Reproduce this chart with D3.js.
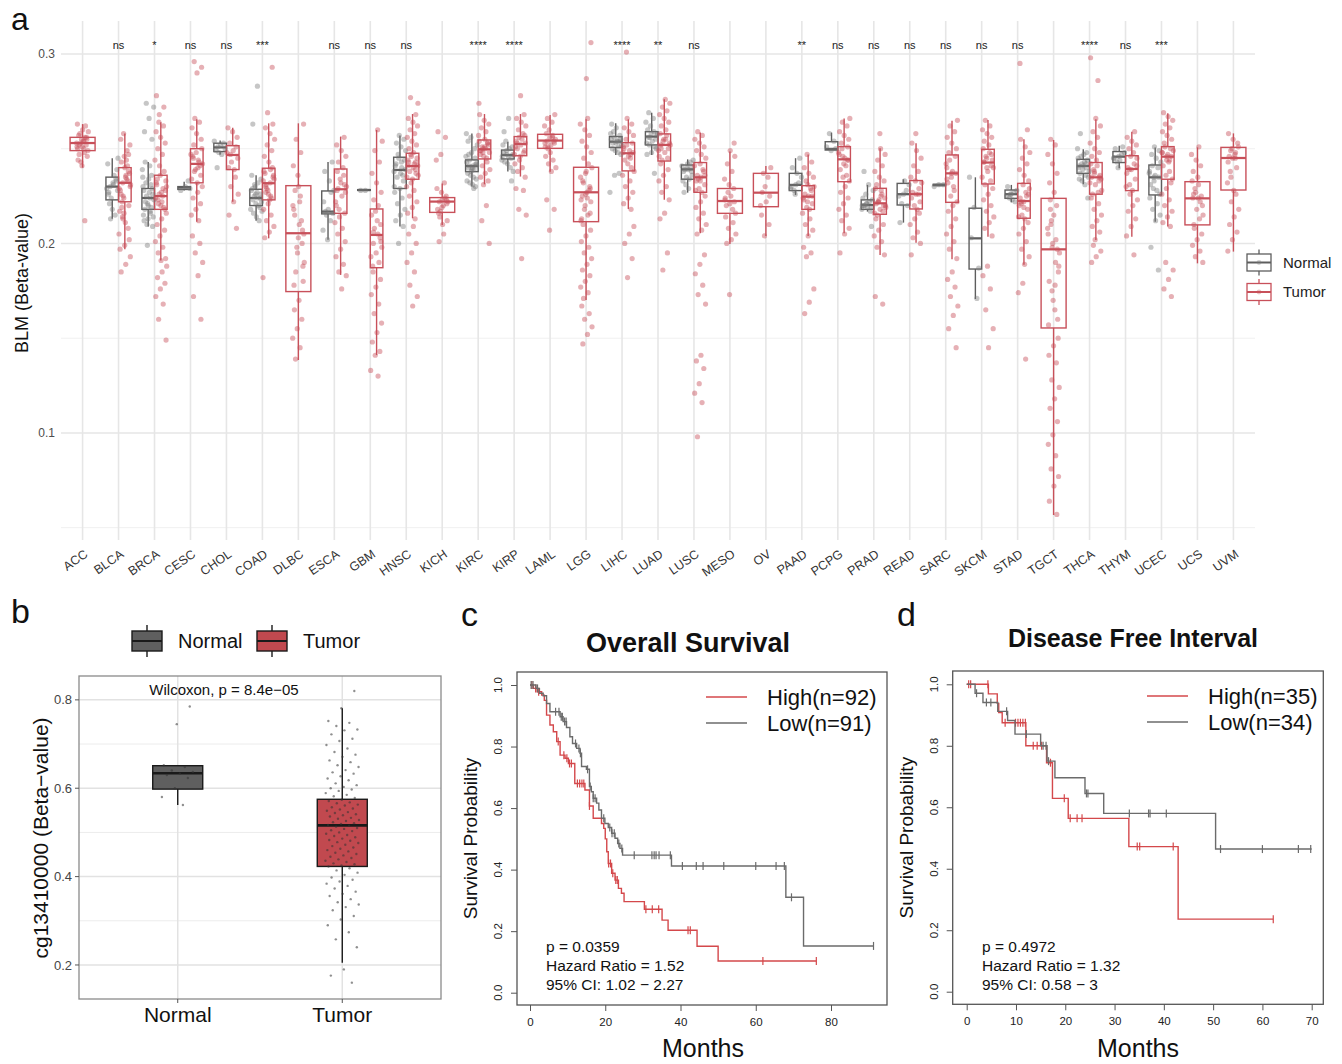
<!DOCTYPE html>
<html lang="en">
<head>
<meta charset="utf-8">
<title>BLM methylation</title>
<script src="https://cdn.jsdelivr.net/npm/d3@7"></script>
<style>
  body { margin: 0; background: #fff; }
  svg text { font-family: "Liberation Sans", Arial, sans-serif; }
</style>
</head>
<body>
<svg id="fig" width="1342" height="1064"></svg>
<script>
// ---------- panel a : BLM beta values across TCGA ----------
const cancers = ["ACC","BLCA","BRCA","CESC","CHOL","COAD","DLBC","ESCA","GBM","HNSC","KICH","KIRC","KIRP","LAML","LGG","LIHC","LUAD","LUSC","MESO","OV","PAAD","PCPG","PRAD","READ","SARC","SKCM","STAD","TGCT","THCA","THYM","UCEC","UCS","UVM"];
const sigLabels = ["","ns","*","ns","ns","***","","ns","ns","ns","","****","****","","","****","**","ns","","","**","ns","ns","ns","ns","ns","ns","","****","ns","***","",""];

// [lower whisker, q1, median, q3, upper whisker]
const normalBox = [
  null,
  [0.213,0.223,0.230,0.235,0.245],
  [0.209,0.218,0.224,0.229,0.243],
  [0.228,0.2285,0.2295,0.230,0.2325],
  [0.247,0.2485,0.2507,0.2529,0.2543],
  [0.212,0.220,0.224,0.2286,0.236],
  null,
  [0.202,0.2156,0.2168,0.2277,0.243],
  [0.2279,0.228,0.2282,0.2284,0.2285],
  [0.209,0.229,0.2388,0.2455,0.257],
  null,
  [0.230,0.2379,0.2409,0.2441,0.258],
  [0.238,0.2446,0.2467,0.2493,0.2537],
  null,
  null,
  [0.2467,0.2507,0.2537,0.2564,0.2634],
  [0.2467,0.252,0.2564,0.259,0.269],
  [0.2268,0.2339,0.2391,0.2414,0.2444],
  null,
  null,
  [0.2256,0.2279,0.2309,0.237,0.245],
  [0.2493,0.2493,0.2499,0.2537,0.2585],
  [0.2168,0.218,0.2203,0.223,0.2309],
  [0.211,0.2203,0.226,0.2317,0.2339],
  [0.2303,0.2305,0.2309,0.2312,0.2314],
  [0.1707,0.1865,0.2027,0.2186,0.2349],
  [0.2217,0.2238,0.226,0.2282,0.2309],
  null,
  [0.2312,0.237,0.2409,0.2444,0.2497],
  [0.2397,0.2427,0.2458,0.2485,0.2515],
  [0.2115,0.2256,0.2349,0.2414,0.2507],
  null,
  null
];
const tumorBox = [
  [0.240,0.249,0.253,0.256,0.263],
  [0.197,0.222,0.232,0.240,0.258],
  [0.191,0.218,0.225,0.236,0.264],
  [0.2115,0.232,0.242,0.250,0.2655],
  [0.222,0.239,0.2467,0.2516,0.261],
  [0.2027,0.223,0.2318,0.2397,0.2634],
  [0.1385,0.1746,0.2054,0.2305,0.2634],
  [0.1834,0.2159,0.2286,0.2393,0.2564],
  [0.1411,0.1872,0.2045,0.2182,0.2599],
  [0.2133,0.2339,0.2409,0.2476,0.2683],
  [0.2098,0.2164,0.2221,0.2242,0.2317],
  [0.2312,0.2446,0.2497,0.2546,0.2683],
  [0.2353,0.2463,0.2525,0.2564,0.2683],
  [0.2379,0.2502,0.2543,0.2576,0.2678],
  [0.1702,0.2115,0.227,0.2402,0.2655],
  [0.2182,0.2383,0.2476,0.2532,0.2655],
  [0.223,0.2435,0.252,0.2578,0.2761],
  [0.2054,0.227,0.2349,0.2427,0.2585],
  [0.1997,0.2159,0.2224,0.229,0.2485],
  [0.204,0.2194,0.2268,0.237,0.2409],
  [0.204,0.218,0.2247,0.2305,0.247],
  [0.2054,0.2326,0.2444,0.2511,0.266],
  [0.1939,0.2154,0.2212,0.2291,0.2502],
  [0.2004,0.2182,0.226,0.2332,0.2529],
  [0.1917,0.2217,0.237,0.2467,0.2648],
  [0.2036,0.2314,0.2427,0.2497,0.2652],
  [0.1887,0.2133,0.2224,0.2317,0.255],
  [0.0567,0.1554,0.1969,0.2238,0.2546],
  [0.2018,0.226,0.2349,0.2427,0.2655],
  [0.2036,0.2279,0.2393,0.2463,0.259],
  [0.2089,0.2339,0.2458,0.2511,0.2687],
  [0.1895,0.2098,0.2238,0.2326,0.2507],
  [0.1957,0.2282,0.2451,0.2507,0.2581]
];

// individual samples, beta x 1000
const normalPts = [
  "",
  "230 228 232 226 234 224 229 236 221 239 218 242 215 213 245 231 227 233",
  "224 222 226 220 228 219 225 223 227 218 229 221 230 216 232 214 234 212 236 210 239 241 243 209 213 215 231 274 272 266 259 255 199 235 217",
  "229 230 228 233",
  "251 250 252 249 253 248 254 247 240",
  "224 223 226 221 228 220 225 222 227 229 219 230 218 232 216 234 214 236 212 231 217 283 263 224 226",
  "",
  "217 216 218 222 227 215 228 233 238 243 202 207 212",
  "228 228",
  "239 237 242 233 245 230 240 235 244 229 241 236 247 249 251 253 255 257 227 224 221 218 215 212 209 200 238 243",
  "",
  "241 240 242 238 243 239 244 241 240 237 245 236 246 235 247 234 248 233 250 232 252 231 254 230 256 258 229 241 242 239",
  "247 246 248 245 249 244 250 243 251 242 252 240 254 238 266 259 233 247 246",
  "",
  "",
  "254 253 255 251 256 252 254 250 257 249 258 248 259 247 261 263 237 236 227 254 253 255",
  "256 255 258 253 259 252 257 254 260 251 262 264 266 269 250 248 247 237 256 258",
  "239 238 240 235 241 234 239 236 242 233 243 231 244 229 227 238 240",
  "",
  "",
  "231 230 232 228 235 237 240 245 226 229",
  "250 249 251 254 258",
  "220 219 221 218 222 220 223 219 224 217 226 228 231 238 209 221 220",
  "226 225 228 221 231 233 211 220",
  "231 231 230",
  "203 187 219 235 171",
  "226 225 227 224 228 223 230 222 226",
  "",
  "241 240 242 238 243 237 244 239 245 236 246 235 247 234 248 233 250 231 258 224 241 240 242",
  "246 245 247 243 248 244 250 251 240 245",
  "235 233 238 228 241 226 236 231 240 229 243 245 247 249 251 224 221 218 215 212 198 186 235 237",
  "",
  ""
];
const tumorPts = [
  "253 254 252 255 251 250 256 253 249 254 257 252 255 251 248 258 246 260 244 262 243 259 250 247 256 241 263 212",
  "232 230 235 226 238 224 229 234 222 237 240 228 233 225 231 236 243 220 246 217 249 214 252 211 255 208 258 205 244 219 202 199 197 241 213 193 189 185 247 216",
  "225 223 228 220 232 219 226 230 222 234 218 236 224 229 221 233 227 231 238 241 244 247 250 253 256 259 262 264 216 213 210 207 204 201 198 195 192 191 278 272 268 188 185 182 179 176 172 168 160 149",
  "242 240 245 236 248 234 243 238 250 232 246 241 239 247 244 252 255 258 261 264 266 230 227 224 221 218 215 212 296 293 290 204 200 195 190 183 172 160",
  "247 245 249 240 251 243 248 239 253 256 259 261 235 230 226 222 215 208",
  "232 230 235 226 238 224 229 234 223 237 240 228 233 225 231 236 243 246 249 252 255 258 261 263 221 218 215 212 209 206 203 293 269 182 239 227",
  "205 210 215 200 195 220 225 185 180 230 178 212 198 190 222 228 207 236 241 248 255 263 170 165 160 155 150 145 139 188 203 218",
  "229 227 232 220 236 218 230 225 238 216 234 222 240 243 246 249 252 256 214 211 208 205 201 197 193 189 185 183 176 228 231",
  "205 200 210 195 215 190 208 198 212 188 203 217 193 220 223 227 232 237 243 249 254 260 185 181 177 173 168 163 158 153 148 143 141 133 130 206 201",
  "241 240 243 237 246 235 242 238 245 234 244 239 247 236 248 250 252 254 256 258 260 262 264 266 268 232 230 228 225 222 219 216 213 277 274 209 205 200 195 190 185 178 172 167 241 243",
  "222 221 223 218 224 217 222 220 216 225 227 229 232 214 212 210 259 256 247 244 205 201 223 219",
  "250 249 252 246 254 245 251 248 255 247 253 250 257 259 261 263 265 268 243 241 239 237 235 233 231 274 220 212 200 251 249 253 248",
  "253 252 254 248 256 247 255 250 257 246 251 258 260 262 264 266 268 244 242 240 238 235 278 229 228 218 215 192 253 249",
  "254 253 256 251 257 250 255 252 258 254 260 262 264 266 268 248 246 244 242 240 238 223 218 207 253 256 251",
  "227 225 230 220 235 215 232 222 238 213 228 218 240 224 233 216 237 212 242 245 248 251 254 257 260 263 266 210 207 204 201 198 195 192 189 186 183 180 177 174 171 306 287 167 163 160 156 152 147 229 226 223",
  "248 246 250 240 252 238 249 244 253 242 251 247 255 257 259 261 263 266 236 233 230 227 224 221 218 301 209 205 200 192 182 248 245",
  "252 250 255 246 257 244 253 248 258 245 254 249 260 262 264 266 268 270 272 274 276 242 239 236 233 230 227 223 216 213 195 186 252 255 250",
  "235 233 238 229 241 227 236 231 242 228 239 234 245 247 249 251 253 255 257 259 225 222 219 216 213 210 207 205 194 189 184 178 173 168 141 138 134 126 121 116 98 236 233",
  "222 221 224 218 227 216 225 220 229 231 234 238 242 246 249 214 211 208 205 202 200 253 173 223",
  "227 225 230 220 235 237 240 222 215 210 204",
  "225 223 228 219 230 218 226 221 231 224 229 233 235 237 240 243 247 216 213 210 207 204 198 195 193 176 169 163 225 222",
  "244 242 247 236 250 233 245 239 251 235 248 241 253 255 257 259 262 264 266 230 227 224 221 218 215 212 208 205 195 244 246",
  "221 220 223 216 226 215 224 218 229 217 222 219 228 231 233 235 238 241 244 247 250 213 210 207 204 201 198 194 258 172 168 222 220 225",
  "226 224 229 220 232 218 227 222 233 235 238 241 245 249 253 216 213 210 206 203 200 258 194 226",
  "237 235 240 228 244 222 238 232 246 225 242 230 248 250 253 256 259 262 265 220 217 213 209 205 201 197 192 185 181 177 172 167 162 155 145 237 234",
  "243 241 245 235 248 231 244 238 250 233 246 240 252 254 256 258 260 262 265 229 226 223 220 217 214 211 208 204 188 183 176 165 155 145 243 247 240",
  "222 220 225 215 229 213 224 218 231 214 227 221 233 236 239 242 245 248 251 255 211 208 205 201 197 193 189 295 260 179 174 139 222 226 219",
  "197 200 205 190 210 185 215 180 220 175 195 165 223 160 170 157 202 212 188 227 232 237 242 247 252 255 150 146 141 137 128 124 118 113 106 99 94 88 81 77 72 64 57 198 208 178 218",
  "235 233 238 228 241 226 236 231 242 227 239 234 244 246 248 250 253 256 259 262 266 224 221 218 215 212 209 206 202 298 286 199 196 193 190 235 237 232",
  "239 237 242 231 245 228 240 234 246 230 248 250 252 254 256 259 226 223 220 217 213 209 204 194 239 241",
  "246 244 248 238 251 234 247 241 250 236 249 243 253 255 257 259 261 263 265 267 269 232 229 226 223 220 217 214 211 209 190 186 181 176 172 246 248 244",
  "224 222 227 215 231 210 225 218 233 213 229 220 235 238 241 244 247 251 208 205 202 199 196 193 190 224 226",
  "245 243 248 235 251 228 246 240 250 232 247 238 253 255 258 226 222 218 214 210 206 202 196 245 249"
];
const yTicksA = [0.1, 0.2, 0.3];

// ---------- panel b : cg13410000 ----------
const groupsB = ["Normal", "Tumor"];
const boxB = [[0.562,0.598,0.634,0.651,0.652], [0.205,0.423,0.516,0.575,0.781]];
const ptsB = [
  "785 745 652 648 640 637 633 630 623 600 580 562",
  "820 781 752 748 741 733 731 722 712 707 698 690 682 676 671 663 659 652 648 641 636 633 627 622 618 611 607 603 600 597 594 589 585 582 578 574 571 568 566 563 561 557 554 552 549 546 544 541 539 536 533 531 528 526 523 521 519 517 515 513 510 508 505 503 500 497 494 492 489 486 483 481 478 476 472 469 466 463 460 457 454 451 448 445 442 439 436 433 430 428 425 423 419 414 409 404 398 393 389 384 379 373 366 361 356 349 342 337 331 324 311 303 290 274 258 240 190 176 160"
];
const yTicksB = [0.2, 0.4, 0.6, 0.8];

// ---------- panel c : overall survival ----------
const osHighT = [0,0.9,1.9,3.1,3.8,4.4,5.3,6.2,7.1,8.0,9.3,10.2,11.9,14.6,15.8,16.8,19.0,19.6,20.0,20.4,20.8,21.7,22.6,23.5,24.3,25.0,30.4,35.1,36.7,44.4,50.0];
const osHighS = [1.0,0.989,0.978,0.967,0.950,0.902,0.870,0.848,0.816,0.772,0.762,0.745,0.680,0.659,0.607,0.567,0.550,0.534,0.500,0.458,0.420,0.388,0.366,0.339,0.323,0.296,0.271,0.236,0.203,0.151,0.103];
const osHighCens = [0.5,1.5,2.3,7.5,9.0,9.8,10.5,11.0,12.6,13.2,13.8,14.3,15.8,20.9,21.4,22.0,22.8,23.2,30.8,32.5,34.2,42.0,42.6,61.9,76.1];
const osLowT = [0,1.6,2.5,3.5,4.4,5.3,8.0,8.8,9.7,10.6,11.3,12.4,13.3,13.7,15.0,15.8,16.3,16.8,17.7,18.3,19.0,19.9,20.8,21.7,22.6,23.3,23.9,24.6,37.6,68.0,72.7];
const osLowS = [1.0,0.989,0.973,0.965,0.940,0.913,0.897,0.881,0.862,0.832,0.810,0.794,0.778,0.735,0.726,0.670,0.653,0.632,0.616,0.594,0.567,0.550,0.537,0.518,0.502,0.485,0.469,0.447,0.412,0.310,0.152];
const osLowCens = [0.3,0.8,2.0,6.8,7.7,8.3,8.6,9.2,9.6,12.1,13.0,13.4,15.3,16.0,16.8,17.3,19.6,21.2,21.8,22.4,23.6,24.4,27.7,32.4,33.0,33.5,34.3,37.3,40.5,44.2,46.0,51.5,60.0,65.4,67.6,69.5,91.3];
const osEnd = [76.1, 91.3];
const osTicks = [0, 20, 40, 60, 80];

// ---------- panel d : disease free interval ----------
const dfiHighT = [0,4.4,6.2,6.5,7.2,12.0,16.2,17.4,20.6,32.9,42.9];
const dfiHighS = [1,0.969,0.938,0.908,0.875,0.800,0.745,0.629,0.564,0.472,0.236];
const dfiHighCens = [0.4,0.8,4.3,7.8,9.9,10.4,10.9,11.4,11.9,13.5,14.3,15.2,17.0,19.8,21.0,22.4,23.4,34.6,35.1,41.9,62.2];
const dfiLowT = [0,1.7,3.3,6.3,8.3,9.8,15.0,16.3,17.9,24.0,27.8,50.5];
const dfiLowS = [1,0.971,0.941,0.912,0.882,0.838,0.800,0.750,0.696,0.645,0.580,0.464];
const dfiLowCens = [2.0,4.0,4.9,8.1,12.1,15.5,16.1,16.6,24.3,24.6,33.0,36.9,37.2,40.5,51.5,60.0,67.3,69.8];
const dfiEnd = [62.2, 70.0];
const dfiTicks = [0, 10, 20, 30, 40, 50, 60, 70];

const survTicks = [0, 0.2, 0.4, 0.6, 0.8, 1.0];

const RED = "#c8505a", GREY = "#5e5e5e";
const parsePts = s => s ? s.split(" ").map(v => +v / 1000) : [];
const jit = i => ((i * 0.6180339887) % 1) - 0.5;

const svg = d3.select("#fig");

// ================= panel a =================
const A = {left: 61, right: 1255, top: 21, bottom: 540};
const xA = d3.scaleBand().domain(cancers).range([A.left, A.right]).paddingInner(0).paddingOuter(0.1);
const yA = d3.scaleLinear().domain([0.0435, 0.3174]).range([A.bottom, A.top]);
const gA = svg.append("g");

// grid
gA.selectAll(".minor").data([0.05, 0.15, 0.25]).enter().append("line")
  .attr("x1", A.left).attr("x2", A.right)
  .attr("y1", d => yA(d)).attr("y2", d => yA(d))
  .attr("stroke", "#f0f0f0").attr("stroke-width", 1);
gA.selectAll(".major").data(yTicksA).enter().append("line")
  .attr("x1", A.left).attr("x2", A.right)
  .attr("y1", d => yA(d)).attr("y2", d => yA(d))
  .attr("stroke", "#e6e6e6").attr("stroke-width", 1.6);
gA.selectAll(".vgrid").data(cancers).enter().append("line")
  .attr("x1", d => xA(d) + xA.bandwidth() / 2).attr("x2", d => xA(d) + xA.bandwidth() / 2)
  .attr("y1", A.top).attr("y2", A.bottom)
  .attr("stroke", "#e6e6e6").attr("stroke-width", 1.6);

// y axis labels
gA.selectAll(".ytick").data(yTicksA).enter().append("text")
  .attr("x", 55).attr("y", d => yA(d)).attr("dy", "0.35em")
  .attr("text-anchor", "end").attr("font-size", 12).attr("fill", "#4d4d4d")
  .text(d => d.toFixed(1));
gA.append("text")
  .attr("transform", "translate(28,283) rotate(-90)")
  .attr("text-anchor", "middle").attr("font-size", 18).attr("fill", "#111")
  .text("BLM (Beta-value)");

// x labels
gA.selectAll(".xlab").data(cancers).enter().append("text")
  .attr("transform", d => `translate(${xA(d) + xA.bandwidth() / 2 + 6},556) rotate(-35)`)
  .attr("text-anchor", "end").attr("font-size", 12.5).attr("fill", "#333")
  .text(d => d);

function drawBox(g, cx, w, st, y, color, sw) {
  g.append("line").attr("x1", cx).attr("x2", cx).attr("y1", y(st[4])).attr("y2", y(st[3]))
    .attr("stroke", color).attr("stroke-width", sw);
  g.append("line").attr("x1", cx).attr("x2", cx).attr("y1", y(st[1])).attr("y2", y(st[0]))
    .attr("stroke", color).attr("stroke-width", sw);
  g.append("rect").attr("x", cx - w / 2).attr("width", w)
    .attr("y", y(st[3])).attr("height", Math.max(0.5, y(st[1]) - y(st[3])))
    .attr("fill", "none").attr("stroke", color).attr("stroke-width", sw);
  g.append("line").attr("x1", cx - w / 2).attr("x2", cx + w / 2)
    .attr("y1", y(st[2])).attr("y2", y(st[2]))
    .attr("stroke", color).attr("stroke-width", sw * 1.6);
}

const boxesA = gA.append("g");
const ptsA = gA.append("g");
cancers.forEach((c, i) => {
  const cx = xA(c) + xA.bandwidth() / 2;
  const paired = normalBox[i] != null;
  const w = paired ? 12.6 : 25;
  const groups = [];
  if (paired) groups.push({st: normalBox[i], pts: parsePts(normalPts[i]), x: cx - 6.3, col: GREY, pc: "#777", op: 0.42});
  groups.push({st: tumorBox[i], pts: parsePts(tumorPts[i]), x: paired ? cx + 6.3 : cx, col: RED, pc: RED, op: 0.45});
  groups.forEach(gr => {
    drawBox(boxesA, gr.x, w, gr.st, yA, gr.col, 1.4);
    ptsA.selectAll(null).data(gr.pts).enter().append("circle")
      .attr("cx", (d, k) => gr.x + jit(k + i * 7) * 12)
      .attr("cy", d => yA(d))
      .attr("r", 2.6)
      .attr("fill", gr.pc).attr("fill-opacity", gr.op);
  });
  if (sigLabels[i]) {
    gA.append("text").attr("x", cx).attr("y", 49)
      .attr("text-anchor", "middle").attr("font-size", 11).attr("fill", "#222")
      .text(sigLabels[i]);
  }
});

// legend a
[["Normal", GREY, "#777", 262.5], ["Tumor", RED, RED, 292]].forEach(([lab, col, pc, cy]) => {
  const lg = gA.append("g");
  lg.append("line").attr("x1", 1259).attr("x2", 1259).attr("y1", cy - 13).attr("y2", cy + 13)
    .attr("stroke", col).attr("stroke-width", 1.3);
  lg.append("rect").attr("x", 1247).attr("y", cy - 8.5).attr("width", 24).attr("height", 17)
    .attr("fill", "#fff").attr("stroke", col).attr("stroke-width", 1.3);
  lg.append("line").attr("x1", 1247).attr("x2", 1271).attr("y1", cy).attr("y2", cy)
    .attr("stroke", col).attr("stroke-width", 2);
  lg.append("circle").attr("cx", 1259).attr("cy", cy).attr("r", 2.4).attr("fill", pc).attr("fill-opacity", 0.35);
  lg.append("text").attr("x", 1283).attr("y", cy).attr("dy", "0.35em")
    .attr("font-size", 15).attr("fill", "#222").text(lab);
});

svg.append("text").attr("x", 11).attr("y", 30).attr("font-size", 32).attr("fill", "#111").text("a");

// ================= panel b =================
const B = {left: 79, right: 441, top: 676, bottom: 999};
const xB = d3.scaleBand().domain(groupsB).range([B.left, B.right]).paddingInner(0).paddingOuter(0.1);
const yB = d3.scaleLinear().domain([0.123, 0.854]).range([B.bottom, B.top]);
const gB = svg.append("g");

gB.selectAll(".bminor").data([0.3, 0.5, 0.7]).enter().append("line")
  .attr("x1", B.left).attr("x2", B.right).attr("y1", d => yB(d)).attr("y2", d => yB(d))
  .attr("stroke", "#ececec").attr("stroke-width", 1);
gB.selectAll(".bmajor").data(yTicksB).enter().append("line")
  .attr("x1", B.left).attr("x2", B.right).attr("y1", d => yB(d)).attr("y2", d => yB(d))
  .attr("stroke", "#e2e2e2").attr("stroke-width", 1.5);
gB.selectAll(".bvgrid").data(groupsB).enter().append("line")
  .attr("x1", d => xB(d) + xB.bandwidth() / 2).attr("x2", d => xB(d) + xB.bandwidth() / 2)
  .attr("y1", B.top).attr("y2", B.bottom)
  .attr("stroke", "#e2e2e2").attr("stroke-width", 1.5);

const fillsB = ["#5f5f5f", "#c1494f"];
groupsB.forEach((grp, i) => {
  const cx = xB(grp) + xB.bandwidth() / 2;
  const st = boxB[i];
  const w = 50;
  gB.append("line").attr("x1", cx).attr("x2", cx).attr("y1", yB(st[4])).attr("y2", yB(st[0]))
    .attr("stroke", "#1a1a1a").attr("stroke-width", 1.4);
  gB.append("rect").attr("x", cx - w / 2).attr("width", w)
    .attr("y", yB(st[3])).attr("height", yB(st[1]) - yB(st[3]))
    .attr("fill", fillsB[i]).attr("stroke", "#1a1a1a").attr("stroke-width", 1.4);
  gB.append("line").attr("x1", cx - w / 2).attr("x2", cx + w / 2)
    .attr("y1", yB(st[2])).attr("y2", yB(st[2]))
    .attr("stroke", "#1a1a1a").attr("stroke-width", 2.6);
  gB.selectAll(null).data(parsePts(ptsB[i])).enter().append("circle")
    .attr("cx", (d, k) => cx + jit(k + 3) * 34)
    .attr("cy", d => yB(d))
    .attr("r", 1.2).attr("fill", "#333").attr("fill-opacity", 0.55);
});

gB.append("rect").attr("x", B.left).attr("y", B.top)
  .attr("width", B.right - B.left).attr("height", B.bottom - B.top)
  .attr("fill", "none").attr("stroke", "#8a8a8a").attr("stroke-width", 1.3);

gB.selectAll(".btick").data(yTicksB).enter().append("line")
  .attr("x1", B.left - 4).attr("x2", B.left).attr("y1", d => yB(d)).attr("y2", d => yB(d))
  .attr("stroke", "#555").attr("stroke-width", 1);
gB.selectAll(".blab").data(yTicksB).enter().append("text")
  .attr("x", B.left - 7).attr("y", d => yB(d)).attr("dy", "0.35em")
  .attr("text-anchor", "end").attr("font-size", 13).attr("fill", "#444")
  .text(d => d.toFixed(1));
gB.selectAll(".bxtick").data(groupsB).enter().append("line")
  .attr("x1", d => xB(d) + xB.bandwidth() / 2).attr("x2", d => xB(d) + xB.bandwidth() / 2)
  .attr("y1", B.bottom).attr("y2", B.bottom + 4)
  .attr("stroke", "#555").attr("stroke-width", 1);
gB.selectAll(".bxlab").data(groupsB).enter().append("text")
  .attr("x", d => xB(d) + xB.bandwidth() / 2).attr("y", 1022)
  .attr("text-anchor", "middle").attr("font-size", 21).attr("fill", "#111")
  .text(d => d);
gB.append("text")
  .attr("transform", "translate(48,838) rotate(-90)")
  .attr("text-anchor", "middle").attr("font-size", 21).attr("fill", "#111")
  .text("cg13410000 (Beta\u2212value)");
gB.append("text").attr("x", 224).attr("y", 695)
  .attr("text-anchor", "middle").attr("font-size", 15).attr("fill", "#111")
  .text("Wilcoxon, p = 8.4e\u221205");

// legend b
[["Normal", fillsB[0], 132, 178], ["Tumor", fillsB[1], 257, 303]].forEach(([lab, fill, kx, tx]) => {
  gB.append("line").attr("x1", kx + 15).attr("x2", kx + 15).attr("y1", 625).attr("y2", 657)
    .attr("stroke", "#1a1a1a").attr("stroke-width", 1.4);
  gB.append("rect").attr("x", kx).attr("y", 631).attr("width", 30).attr("height", 20)
    .attr("fill", fill).attr("stroke", "#1a1a1a").attr("stroke-width", 1.4);
  gB.append("line").attr("x1", kx).attr("x2", kx + 30).attr("y1", 641).attr("y2", 641)
    .attr("stroke", "#1a1a1a").attr("stroke-width", 2);
  gB.append("text").attr("x", tx).attr("y", 641).attr("dy", "0.35em")
    .attr("font-size", 20).attr("fill", "#111").text(lab);
});

svg.append("text").attr("x", 11).attr("y", 623).attr("font-size", 34).attr("fill", "#111").text("b");

// ================= KM panels =================
const KM_RED = "#d4484b", KM_GREY = "#6b6b6b";

function drawKM(o) {
  const g = svg.append("g");
  const x = d3.scaleLinear().domain([o.ticks[0], o.ticks[o.ticks.length - 1]]).range(o.xr);
  const y = d3.scaleLinear().domain([0, 1]).range(o.yr);
  const line = d3.line().x(d => x(d[0])).y(d => y(d[1])).curve(d3.curveStepAfter);

  o.curves.forEach(cv => {
    const pts = cv.T.map((t, i) => [t, cv.S[i]]).concat([[cv.end, cv.S[cv.S.length - 1]]]);
    g.append("path").datum(pts).attr("d", line)
      .attr("fill", "none").attr("stroke", cv.color).attr("stroke-width", 1.4);
    g.selectAll(null).data(cv.cens).enter().append("line")
      .attr("x1", d => x(d)).attr("x2", d => x(d))
      .attr("y1", d => y(cv.S[Math.max(0, d3.bisectRight(cv.T, d) - 1)]) - 4)
      .attr("y2", d => y(cv.S[Math.max(0, d3.bisectRight(cv.T, d) - 1)]) + 4)
      .attr("stroke", cv.color).attr("stroke-width", 1.2);
  });

  g.append("rect").attr("x", o.box[0]).attr("y", o.box[1])
    .attr("width", o.box[2] - o.box[0]).attr("height", o.box[3] - o.box[1])
    .attr("fill", "none").attr("stroke", "#555").attr("stroke-width", 1.3);

  const xAxis = g.append("g").attr("transform", `translate(0,${o.box[3]})`)
    .call(d3.axisBottom(x).tickValues(o.ticks).tickSize(6).tickSizeOuter(0).tickPadding(7));
  xAxis.select(".domain").remove();
  xAxis.selectAll("line").attr("stroke", "#555");
  xAxis.selectAll("text").attr("font-size", 11.5).attr("fill", "#222")
    .attr("font-family", "Liberation Sans, Arial, sans-serif");

  const yAxis = g.append("g").attr("transform", `translate(${o.box[0]},0)`)
    .call(d3.axisLeft(y).tickValues(survTicks).tickSize(6).tickSizeOuter(0));
  yAxis.select(".domain").remove();
  yAxis.selectAll("line").attr("stroke", "#555");
  yAxis.selectAll("text").remove();
  g.selectAll(null).data(survTicks).enter().append("text")
    .attr("transform", d => `translate(${o.box[0] - 15},${y(d)}) rotate(-90)`)
    .attr("text-anchor", "middle").attr("font-size", 11.5).attr("fill", "#222")
    .text(d => d.toFixed(1));

  g.append("text").attr("x", o.titleX).attr("y", o.titleY)
    .attr("text-anchor", "middle").attr("font-size", o.titleSize).attr("font-weight", "bold").attr("fill", "#111")
    .text(o.title);
  g.append("text").attr("x", o.monthsX).attr("y", 1057)
    .attr("text-anchor", "middle").attr("font-size", 25).attr("fill", "#111")
    .text("Months");
  g.append("text")
    .attr("transform", `translate(${o.box[0] - 40},${(o.box[1] + o.box[3]) / 2}) rotate(-90)`)
    .attr("text-anchor", "middle").attr("font-size", 19).attr("fill", "#111")
    .text("Survival Probability");

  // legend
  o.legend.forEach((lab, i) => {
    const ly = o.legY + i * 26;
    g.append("line").attr("x1", o.legX).attr("x2", o.legX + 41).attr("y1", ly).attr("y2", ly)
      .attr("stroke", o.curves[i].color).attr("stroke-width", 1.6);
    g.append("text").attr("x", o.legX + 61).attr("y", ly).attr("dy", "0.35em")
      .attr("font-size", 22).attr("fill", "#111").text(lab);
  });

  o.notes.forEach((t, i) => {
    g.append("text").attr("x", o.noteX).attr("y", o.noteY + i * 19).attr("dy", "0.35em")
      .attr("font-size", 15.5).attr("fill", "#111").text(t);
  });

  svg.append("text").attr("x", o.letterX).attr("y", 626).attr("font-size", 34).attr("fill", "#111").text(o.letter);
}

drawKM({
  letter: "c", letterX: 461,
  box: [517, 672, 887, 1005], xr: [530, 831], yr: [992.7, 685], ticks: osTicks,
  curves: [
    {T: osHighT, S: osHighS, cens: osHighCens, end: osEnd[0], color: KM_RED},
    {T: osLowT, S: osLowS, cens: osLowCens, end: osEnd[1], color: KM_GREY}
  ],
  title: "Overall Survival", titleX: 688, titleY: 652, titleSize: 27, monthsX: 703,
  legend: ["High(n=92)", "Low(n=91)"], legX: 706, legY: 697,
  notes: ["p = 0.0359", "Hazard Ratio = 1.52", "95% CI: 1.02 \u2212 2.27"], noteX: 546, noteY: 947
});

drawKM({
  letter: "d", letterX: 897,
  box: [952.7, 671, 1323.3, 1004.3], xr: [966.7, 1311.7], yr: [991.7, 684.3], ticks: dfiTicks,
  curves: [
    {T: dfiHighT, S: dfiHighS, cens: dfiHighCens, end: dfiEnd[0], color: KM_RED},
    {T: dfiLowT, S: dfiLowS, cens: dfiLowCens, end: dfiEnd[1], color: KM_GREY}
  ],
  title: "Disease Free Interval", titleX: 1133, titleY: 647, titleSize: 25, monthsX: 1138,
  legend: ["High(n=35)", "Low(n=34)"], legX: 1147, legY: 696,
  notes: ["p = 0.4972", "Hazard Ratio = 1.32", "95% CI: 0.58 \u2212 3"], noteX: 982, noteY: 947
});
</script>
</body>
</html>
